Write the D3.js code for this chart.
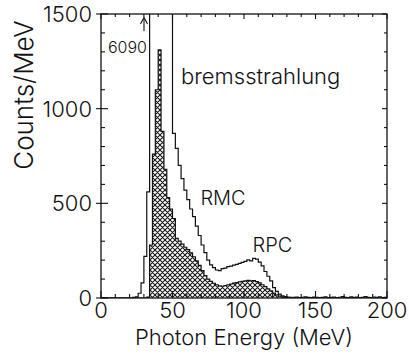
<!DOCTYPE html>
<html>
<head>
<meta charset="utf-8">
<script src="https://cdn.jsdelivr.net/npm/d3@7"></script>
<style>
  html, body { margin: 0; padding: 0; background: #fff; }
  svg { display: block; }
  text { font-family: Inter, "Liberation Sans", Arial, sans-serif; font-weight: 300; fill: #111; }
</style>
</head>
<body>
<svg id="chart" width="409" height="355"></svg>
<script>
// Histogram binning (MeV)
const binStart = 0;
const binWidth = 2;

// Total photon spectrum, counts/MeV per 2 MeV bin from 0 to 200 MeV
const totalCounts = [
  0, 0, 0, 0, 0, 0, 0, 0, 0, 0,
  0, 3, 6, 25, 80, 220, 560, 2600, 4300, 5700,
  6090, 5100, 3700, 2400, 1650, 870, 790, 700, 630, 570,
  520, 470, 430, 380, 330, 280, 240, 200, 175, 160,
  148, 145, 155, 158, 166, 168, 174, 178, 183, 188,
  193, 201, 196, 209, 205, 190, 170, 140, 115, 90,
  55, 35, 20, 12, 8, 5, 4, 3, 5, 2,
  4, 6, 3, 2, 5, 3, 1, 4, 6, 2,
  3, 5, 2, 4, 7, 3, 2, 6, 3, 5,
  2, 4, 8, 3, 2, 5, 3, 6, 2, 4
];

// Hatched component spectrum, same binning
const hatchedCounts = [
  0, 0, 0, 0, 0, 0, 0, 0, 0, 0,
  0, 0, 0, 0, 0, 0, 5, 280, 760, 1100,
  1310, 880, 680, 530, 470, 420, 315, 300, 285, 268,
  255, 238, 218, 196, 172, 145, 118, 100, 88, 78,
  70, 64, 62, 66, 70, 74, 79, 81, 85, 88,
  90, 93, 90, 92, 87, 80, 70, 60, 48, 38,
  26, 16, 10, 6, 3, 0, 0, 0, 0, 0,
  0, 0, 0, 0, 0, 0, 0, 0, 0, 0,
  0, 0, 0, 0, 0, 0, 0, 0, 0, 0,
  0, 0, 0, 0, 0, 0, 0, 0, 0, 0
];

const xMajorTicks = [0, 50, 100, 150, 200];
const yMajorTicks = [0, 500, 1000, 1500];
const xMinorStep = 10;
const yMinorStep = 100;

const peakLabel = "6090";
const annotations = [
  { text: "bremsstrahlung", e: 56, c: 1130, size: 22 },
  { text: "RMC", e: 69.5, c: 490, size: 20 },
  { text: "RPC", e: 106, c: 244, size: 20 }
];

const svg = d3.select("#chart");
const plot = { left: 101, right: 387, top: 14, bottom: 298 };

const x = d3.scaleLinear().domain([0, 200]).range([plot.left, plot.right]);
const y = d3.scaleLinear().domain([0, 1500]).range([plot.bottom, plot.top]);

// clip region for the plotting frame
svg.append("defs").append("clipPath").attr("id", "plotClip")
  .append("rect")
  .attr("x", plot.left).attr("y", plot.top)
  .attr("width", plot.right - plot.left).attr("height", plot.bottom - plot.top);

// cross-hatch pattern
const pat = svg.select("defs").append("pattern")
  .attr("id", "xhatch")
  .attr("patternUnits", "userSpaceOnUse")
  .attr("width", 5).attr("height", 5);
pat.append("path").attr("d", "M0,0 L5,5 M5,0 L0,5 M-1,4 L1,6 M4,-1 L6,1 M-1,1 L1,-1 M4,6 L6,4")
  .attr("stroke", "#111").attr("stroke-width", 1.05).attr("fill", "none");

// convert bin counts into step outline points
function steps(counts) {
  const pts = [];
  counts.forEach((v, i) => {
    const lo = binStart + i * binWidth;
    pts.push([lo, v], [lo + binWidth, v]);
  });
  return pts;
}

const g = svg.append("g").attr("clip-path", "url(#plotClip)");

const hatchPts = steps(hatchedCounts);
const area = d3.area().x(d => x(d[0])).y0(y(0)).y1(d => y(d[1]));
const line = d3.line().x(d => x(d[0])).y(d => y(d[1]));

g.append("path").datum(hatchPts)
  .attr("d", area).attr("fill", "url(#xhatch)").attr("stroke", "none");
g.append("path").datum(hatchPts)
  .attr("d", line).attr("fill", "none").attr("stroke", "#111").attr("stroke-width", 1.2);

g.append("path").datum(steps(totalCounts))
  .attr("d", line).attr("fill", "none").attr("stroke", "#111").attr("stroke-width", 1.2);

// frame
svg.append("rect")
  .attr("x", plot.left).attr("y", plot.top)
  .attr("width", plot.right - plot.left).attr("height", plot.bottom - plot.top)
  .attr("fill", "none").attr("stroke", "#111").attr("stroke-width", 1.3);

// ticks
const ticks = svg.append("g").attr("stroke", "#111").attr("stroke-width", 1.1);
d3.range(0, 201, xMinorStep).forEach(v => {
  const major = xMajorTicks.includes(v);
  ticks.append("line")
    .attr("x1", x(v)).attr("x2", x(v))
    .attr("y1", plot.bottom).attr("y2", plot.bottom - (major ? 7 : 4));
  ticks.append("line")
    .attr("x1", x(v)).attr("x2", x(v))
    .attr("y1", plot.top).attr("y2", plot.top + (major ? 5 : 3));
});
d3.range(0, 1501, yMinorStep).forEach(v => {
  const major = yMajorTicks.includes(v);
  ticks.append("line")
    .attr("x1", plot.left - (major ? 5 : 0)).attr("x2", plot.left + (major ? 7 : 4))
    .attr("y1", y(v)).attr("y2", y(v));
  ticks.append("line")
    .attr("x1", plot.right).attr("x2", plot.right - (major ? 5 : 3))
    .attr("y1", y(v)).attr("y2", y(v));
});

// tick labels
svg.append("g").selectAll("text").data(xMajorTicks).join("text")
  .attr("x", d => x(d)).attr("y", plot.bottom + 20)
  .attr("text-anchor", "middle").attr("font-size", 22)
  .text(d => d);
svg.append("g").selectAll("text").data(yMajorTicks).join("text")
  .attr("x", plot.left - 9).attr("y", d => y(d) + 8)
  .attr("text-anchor", "end").attr("font-size", 22)
  .text(d => d);

// axis titles
svg.append("text")
  .attr("x", (plot.left + plot.right) / 2).attr("y", 345)
  .attr("text-anchor", "middle").attr("font-size", 22)
  .text("Photon Energy (MeV)");
svg.append("text")
  .attr("transform", "translate(33,95) rotate(-90)")
  .attr("text-anchor", "middle").attr("font-size", 26)
  .text("Counts/MeV");

// off-scale peak marker
svg.append("line")
  .attr("x1", 144).attr("x2", 144).attr("y1", 31).attr("y2", 19)
  .attr("stroke", "#111").attr("stroke-width", 1.1);
svg.append("path")
  .attr("d", "M140.5,24 L144,17.5 L147.5,24")
  .attr("fill", "none").attr("stroke", "#111").attr("stroke-width", 1.1);
svg.append("text")
  .attr("x", 147).attr("y", 53).attr("text-anchor", "end").attr("font-size", 16)
  .text(peakLabel);

// spectrum labels
svg.append("g").selectAll("text").data(annotations).join("text")
  .attr("x", d => x(d.e)).attr("y", d => y(d.c))
  .attr("font-size", d => d.size)
  .text(d => d.text);
</script>
</body>
</html>
